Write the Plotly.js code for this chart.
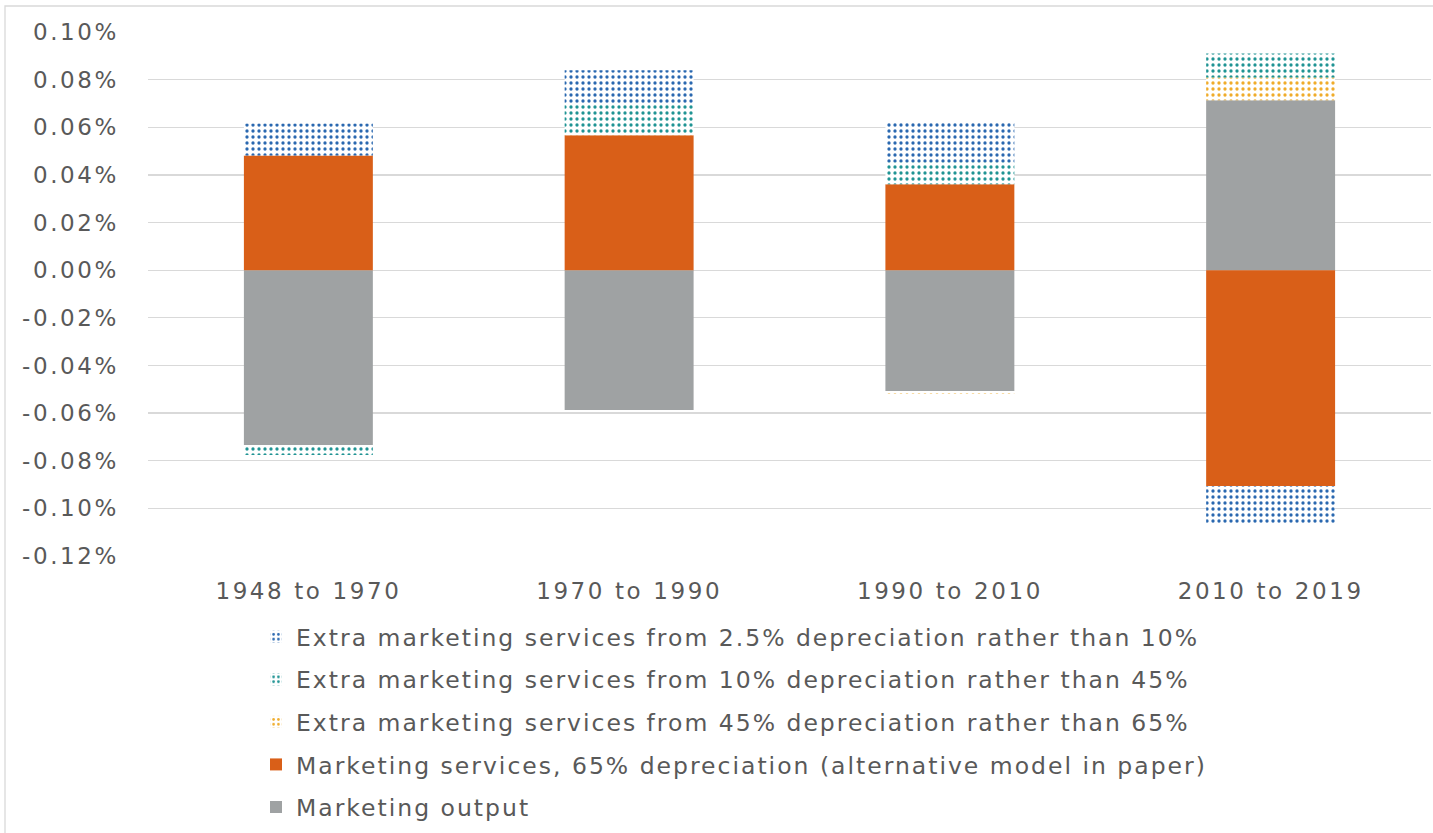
<!DOCTYPE html>
<html>
<head>
<meta charset="utf-8">
<script src="https://cdn.plot.ly/plotly-3.0.1.min.js"></script>
<style>
html,body{margin:0;padding:0;background:#fff;}
#chart{width:1433px;height:833px;}
#chart text{letter-spacing:2.6px;}
#chart .legend text{letter-spacing:2.0px;}
#chart .legend .scrollbox{clip-path:none !important;}
</style>
</head>
<body>
<div id="chart"></div>
<script>
const categories = ["1948 to 1970", "1970 to 1990", "1990 to 2010", "2010 to 2019"];
const marketingOutput = [-0.0734, -0.0587, -0.0507, 0.0713];
const services65 = [0.0482, 0.0566, 0.0361, -0.0906];
const extra45to65 = [-0.0005, 0.0005, -0.0012, 0.0096];
const extra10to45 = [-0.0037, 0.0130, 0.0092, 0.0101];
const extra25to10 = [0.0134, 0.0138, 0.0168, -0.0155];
const tickVals = [0.10, 0.08, 0.06, 0.04, 0.02, 0, -0.02, -0.04, -0.06, -0.08, -0.10, -0.12];
const tickText = ["0.10%", "0.08%", "0.06%", "0.04%", "0.02%", "0.00%", "-0.02%", "-0.04%", "-0.06%", "-0.08%", "-0.10%", "-0.12%"];
const names = [
  "Marketing output",
  "Marketing services, 65% depreciation (alternative model in paper)",
  "Extra marketing services from 45% depreciation rather than 65%",
  "Extra marketing services from 10% depreciation rather than 45%",
  "Extra marketing services from 2.5% depreciation rather than 10%"
];

function solid(name, y, color, g, rank) {
  return {type: "bar", name: name, x: categories, y: y, legendgroup: g, legendrank: rank,
    marker: {color: color, line: {width: 0}}, hoverinfo: "y"};
}
function dotted(name, y, color, g, rank) {
  return {type: "bar", name: name, x: categories, y: y, legendgroup: g, legendrank: rank,
    marker: {color: "#ffffff", line: {width: 0},
      pattern: {shape: ".", fgcolor: color, bgcolor: "#ffffff", size: 6, solidity: 0.24, fillmode: "replace"}},
    hoverinfo: "y"};
}

const data = [
  solid(names[0], marketingOutput, "#9fa2a3", "g0", 5),
  solid(names[1], services65, "#d95f18", "g1", 4),
  dotted(names[2], extra45to65, "#f0ac2a", "g2", 3),
  dotted(names[3], extra10to45, "#1f9494", "g3", 2),
  dotted(names[4], extra25to10, "#2a68b0", "g4", 1)
];

const L = 148, R = 1431, T = 32, B = 556;
const W = R - L, H = B - T;
function px(x) { return (x - L) / W; }
function py(y) { return (B - y) / H; }

const layout = {
  width: 1433, height: 833,
  margin: {l: L, r: 1433 - R, t: T, b: 833 - B},
  paper_bgcolor: "#ffffff", plot_bgcolor: "#ffffff",
  barmode: "relative", bargap: 0.598,
  font: {family: "DejaVu Sans, sans-serif", color: "#595959", size: 22},
  xaxis: {type: "category", showgrid: false, zeroline: false, showline: false, ticks: "",
    tickfont: {size: 23, color: "#595959"}, ticklabelstandoff: 19},
  yaxis: {range: [-0.12, 0.10], tickvals: tickVals, ticktext: tickText,
    showgrid: true, gridcolor: "#d9d9d9", gridwidth: 1.3,
    zeroline: true, zerolinecolor: "#d9d9d9", zerolinewidth: 1.3,
    showline: false, ticks: "", tickfont: {size: 23, color: "#595959"}, ticklabelstandoff: 28},
  legend: {orientation: "v", traceorder: "grouped", x: px(256), xanchor: "left", y: py(615), yanchor: "top",
    font: {size: 23.5, color: "#595959"}, itemwidth: 30, tracegroupgap: 9, bgcolor: "rgba(0,0,0,0)"},
  showlegend: true,
  shapes: [{type: "rect", xref: "paper", yref: "paper", x0: px(5), x1: px(1440), y0: py(840), y1: py(6),
    line: {color: "#d9d9d9", width: 1.3}, fillcolor: "rgba(0,0,0,0)", layer: "below"}]
};

Plotly.newPlot("chart", data, layout, {displayModeBar: false, staticPlot: true});
</script>
</body>
</html>
